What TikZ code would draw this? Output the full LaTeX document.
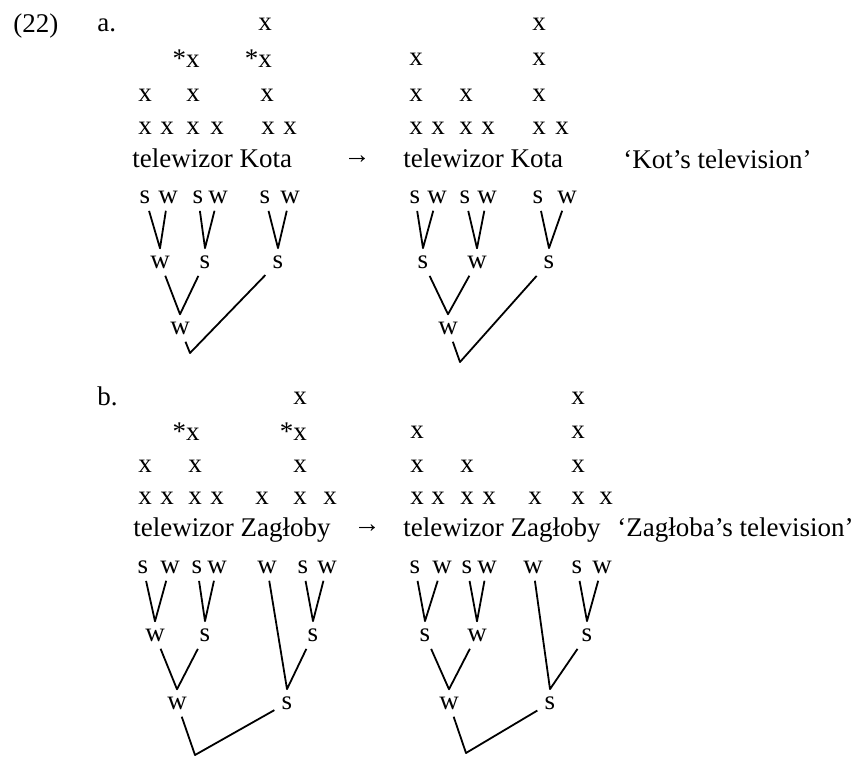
\documentclass[tikz,border=0pt]{standalone}
\usepackage{fontspec}
\setmainfont{Liberation Serif}

\begin{document}
\begin{tikzpicture}[
  x=0.5pt, y=-0.5pt,
  every node/.style={font=\fontsize{13.5}{16}\selectfont},
  gx/.style={inner sep=0pt},
  lab/.style={inner sep=3.5pt},
  txt/.style={anchor=base west, inner sep=0pt},
  br/.style={line width=0.9pt, line join=round}
]
  \useasboundingbox (0,0) rectangle (864,757);

  % example number and labels
  \node[txt] (num) at (13,32) {(22)};
  \node[txt] (la) at (97,31) {a.};
  \node[txt] (lb) at (97,405) {b.};

  % (a) left grid
  \node[gx] (aLx11) at (265,24) {x};
  \node[gx] (aLx21) at (193,59) {\llap{*}x};
  \node[gx] (aLx22) at (265,59) {\llap{*}x};
  \node[gx] (aLx31) at (145,95) {x};
  \node[gx] (aLx32) at (193,95) {x};
  \node[gx] (aLx33) at (267,95) {x};
  \node[gx] (aLx41) at (145,128) {x};
  \node[gx] (aLx42) at (167,128) {x};
  \node[gx] (aLx43) at (193,128) {x};
  \node[gx] (aLx44) at (217,128) {x};
  \node[gx] (aLx45) at (268,128) {x};
  \node[gx] (aLx46) at (290,128) {x};
  \node[txt] (aLtxt) at (132,167) {telewizor Kota};
  \node (aarr) at (357,160) {→};

  % (a) left tree
  \node[lab] (aLs1) at (145,197) {s};
  \node[lab] (aLw1) at (168,197) {w};
  \node[lab] (aLs2) at (198,197) {s};
  \node[lab] (aLw2) at (218,197) {w};
  \node[lab] (aLs3) at (265,197) {s};
  \node[lab] (aLw3) at (290,197) {w};
  \node[lab] (aLf1) at (160,262) {w};
  \node[lab] (aLf2) at (205,262) {s};
  \node[lab] (aLf3) at (278,262) {s};
  \node[lab] (aLp) at (180,328) {w};
  \coordinate (aLr) at (190,353);
  \draw[br] (aLs1) -- (aLf1.north) -- (aLw1);
  \draw[br] (aLs2) -- (aLf2.north) -- (aLw2);
  \draw[br] (aLs3) -- (aLf3.north) -- (aLw3);
  \draw[br] (aLf1) -- (aLp.north) -- (aLf2);
  \draw[br] (aLp) -- (aLr) -- (aLf3);

  % (a) right grid
  \node[gx] (aRx11) at (539,24) {x};
  \node[gx] (aRx21) at (416,59) {x};
  \node[gx] (aRx22) at (539,59) {x};
  \node[gx] (aRx31) at (416,95) {x};
  \node[gx] (aRx32) at (466,95) {x};
  \node[gx] (aRx33) at (539,95) {x};
  \node[gx] (aRx41) at (416,128) {x};
  \node[gx] (aRx42) at (438,128) {x};
  \node[gx] (aRx43) at (466,128) {x};
  \node[gx] (aRx44) at (488,128) {x};
  \node[gx] (aRx45) at (539,128) {x};
  \node[gx] (aRx46) at (562,128) {x};
  \node[txt] (aRtxt) at (403,167) {telewizor Kota};
  \node[txt] (aglo) at (623,168) {‘Kot’s television’};

  % (a) right tree
  \node[lab] (aRs1) at (415,197) {s};
  \node[lab] (aRw1) at (437,197) {w};
  \node[lab] (aRs2) at (465,197) {s};
  \node[lab] (aRw2) at (487,197) {w};
  \node[lab] (aRs3) at (538,197) {s};
  \node[lab] (aRw3) at (567,197) {w};
  \node[lab] (aRf1) at (423,262) {s};
  \node[lab] (aRf2) at (477,262) {w};
  \node[lab] (aRf3) at (549,262) {s};
  \node[lab] (aRp) at (448,328) {w};
  \coordinate (aRr) at (460,362);
  \draw[br] (aRs1) -- (aRf1.north) -- (aRw1);
  \draw[br] (aRs2) -- (aRf2.north) -- (aRw2);
  \draw[br] (aRs3) -- (aRf3.north) -- (aRw3);
  \draw[br] (aRf1) -- (aRp.north) -- (aRf2);
  \draw[br] (aRp) -- (aRr) -- (aRf3);

  % (b) left grid
  \node[gx] (bLx11) at (300,398) {x};
  \node[gx] (bLx21) at (193,432) {\llap{*}x};
  \node[gx] (bLx22) at (300,432) {\llap{*}x};
  \node[gx] (bLx31) at (145,466) {x};
  \node[gx] (bLx32) at (195,466) {x};
  \node[gx] (bLx33) at (300,466) {x};
  \node[gx] (bLx41) at (145,498) {x};
  \node[gx] (bLx42) at (167,498) {x};
  \node[gx] (bLx43) at (195,498) {x};
  \node[gx] (bLx44) at (217,498) {x};
  \node[gx] (bLx45) at (262,498) {x};
  \node[gx] (bLx46) at (300,498) {x};
  \node[gx] (bLx47) at (330,498) {x};
  \node[txt] (bLtxt) at (133,536) {telewizor Zagłoby};
  \node (barr) at (367,529) {→};

  % (b) left tree
  \node[lab] (bLs1) at (143,567) {s};
  \node[lab] (bLw1) at (170,567) {w};
  \node[lab] (bLs2) at (197,567) {s};
  \node[lab] (bLw2) at (217,567) {w};
  \node[lab] (bLw3) at (267,567) {w};
  \node[lab] (bLs4) at (303,567) {s};
  \node[lab] (bLw4) at (327,567) {w};
  \node[lab] (bLf1) at (155,635) {w};
  \node[lab] (bLf2) at (205,635) {s};
  \node[lab] (bLf3) at (313,635) {s};
  \node[lab] (bLp1) at (177,703) {w};
  \node[lab] (bLp2) at (287,703) {s};
  \coordinate (bLr) at (195,755);
  \draw[br] (bLs1) -- (bLf1.north) -- (bLw1);
  \draw[br] (bLs2) -- (bLf2.north) -- (bLw2);
  \draw[br] (bLs4) -- (bLf3.north) -- (bLw4);
  \draw[br] (bLf1) -- (bLp1.north) -- (bLf2);
  \draw[br] (bLw3) -- (bLp2.north) -- (bLf3);
  \draw[br] (bLp1) -- (bLr) -- (bLp2);

  % (b) right grid
  \node[gx] (bRx11) at (578,398) {x};
  \node[gx] (bRx21) at (417,432) {x};
  \node[gx] (bRx22) at (578,432) {x};
  \node[gx] (bRx31) at (417,466) {x};
  \node[gx] (bRx32) at (467,466) {x};
  \node[gx] (bRx33) at (578,466) {x};
  \node[gx] (bRx41) at (417,498) {x};
  \node[gx] (bRx42) at (438,498) {x};
  \node[gx] (bRx43) at (467,498) {x};
  \node[gx] (bRx44) at (489,498) {x};
  \node[gx] (bRx45) at (535,498) {x};
  \node[gx] (bRx46) at (578,498) {x};
  \node[gx] (bRx47) at (606,498) {x};
  \node[txt] (bRtxt) at (403,536) {telewizor Zagłoby};
  \node[txt] (bglo) at (617,536) {‘Zagłoba’s television’};

  % (b) right tree
  \node[lab] (bRs1) at (415,567) {s};
  \node[lab] (bRw1) at (442,567) {w};
  \node[lab] (bRs2) at (467,567) {s};
  \node[lab] (bRw2) at (487,567) {w};
  \node[lab] (bRw3) at (533,567) {w};
  \node[lab] (bRs4) at (577,567) {s};
  \node[lab] (bRw4) at (602,567) {w};
  \node[lab] (bRf1) at (425,635) {s};
  \node[lab] (bRf2) at (477,635) {w};
  \node[lab] (bRf3) at (587,635) {s};
  \node[lab] (bRp1) at (449,703) {w};
  \node[lab] (bRp2) at (550,703) {s};
  \coordinate (bRr) at (466,753);
  \draw[br] (bRs1) -- (bRf1.north) -- (bRw1);
  \draw[br] (bRs2) -- (bRf2.north) -- (bRw2);
  \draw[br] (bRs4) -- (bRf3.north) -- (bRw4);
  \draw[br] (bRf1) -- (bRp1.north) -- (bRf2);
  \draw[br] (bRw3) -- (bRp2.north) -- (bRf3);
  \draw[br] (bRp1) -- (bRr) -- (bRp2);
\end{tikzpicture}
\end{document}
